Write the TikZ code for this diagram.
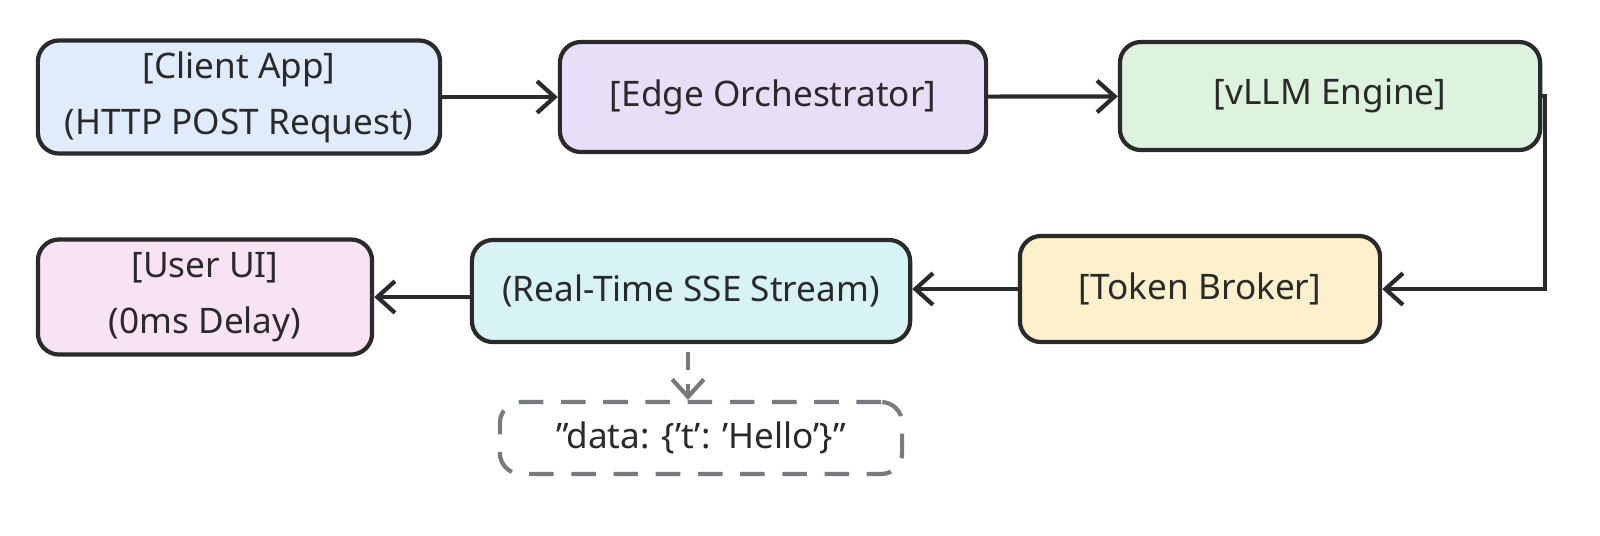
\documentclass[tikz,border=0pt]{standalone}
\usepackage{fontspec}
\setmainfont{Noto Sans}
\usetikzlibrary{arrows.meta}
\definecolor{cblue}{HTML}{E0EBFB}
\definecolor{cpurple}{HTML}{E8DEF8}
\definecolor{cgreen}{HTML}{DDF3DD}
\definecolor{cyellow}{HTML}{FDF0CC}
\definecolor{ccyan}{HTML}{D8F3F5}
\definecolor{cpink}{HTML}{F8E3F5}
\definecolor{cline}{HTML}{2A2A2A}
\definecolor{cdash}{HTML}{777B80}
\newcommand{\dq}{\symbol{34}}
\newcommand{\sq}{\symbol{39}}
\tikzset{
	box/.style={draw=cline, line width=1.2pt, rounded corners=6pt, align=center, inner sep=0pt, font=\fontsize{10}{16}\selectfont, text=cline},
	flow/.style={draw=cline, line width=1.2pt, -{Straight Barb[length=5pt,width=9pt]}},
}
\begin{document}
\begin{tikzpicture}[x=0.01cm, y=-0.01cm]
	\useasboundingbox[fill=white] (0,0) rectangle (1600,535);
	\node[box, fill=cblue,   minimum width=4.02cm, minimum height=1.13cm] (client) at (239,97)  {[Client App]\\(HTTP POST Request)};
	\node[box, fill=cpurple, minimum width=4.26cm, minimum height=1.10cm] (edge)   at (773,97)  {[Edge Orchestrator]};
	\node[box, fill=cgreen,  minimum width=4.20cm, minimum height=1.08cm] (vllm)   at (1330,96) {[vLLM Engine]};
	\node[box, fill=cyellow, minimum width=3.60cm, minimum height=1.06cm] (broker) at (1200,289) {[Token Broker]};
	\node[box, fill=ccyan,   minimum width=4.38cm, minimum height=1.02cm] (sse)    at (691,291) {(Real-Time SSE Stream)};
	\node[box, fill=cpink,   minimum width=3.34cm, minimum height=1.15cm] (user)   at (205,297) {[User UI]\\(0ms Delay)};
	\node[box, draw=cdash, dash pattern=on 7pt off 5pt, minimum width=4.02cm, minimum height=0.72cm] (data) at (701,438) {\dq data: \{\sq t\sq: \sq Hello\sq\}\dq};
	\coordinate (turn) at (1545,96);
	\coordinate (dtop) at (688,352);
	\coordinate (dbot) at (688,400);
	\draw[flow] (client) -- (edge);
	\draw[flow] (edge) -- (vllm);
	\draw[flow] (vllm.east) -- (turn) |- (broker.east);
	\draw[flow] (broker.west) -- (sse.east |- broker.west);
	\draw[flow] (sse.west |- user.east) -- (user.east);
	\draw[flow, draw=cdash, dash pattern=on 5pt off 4pt] (dtop) -- (dbot);
\end{tikzpicture}
\end{document}
